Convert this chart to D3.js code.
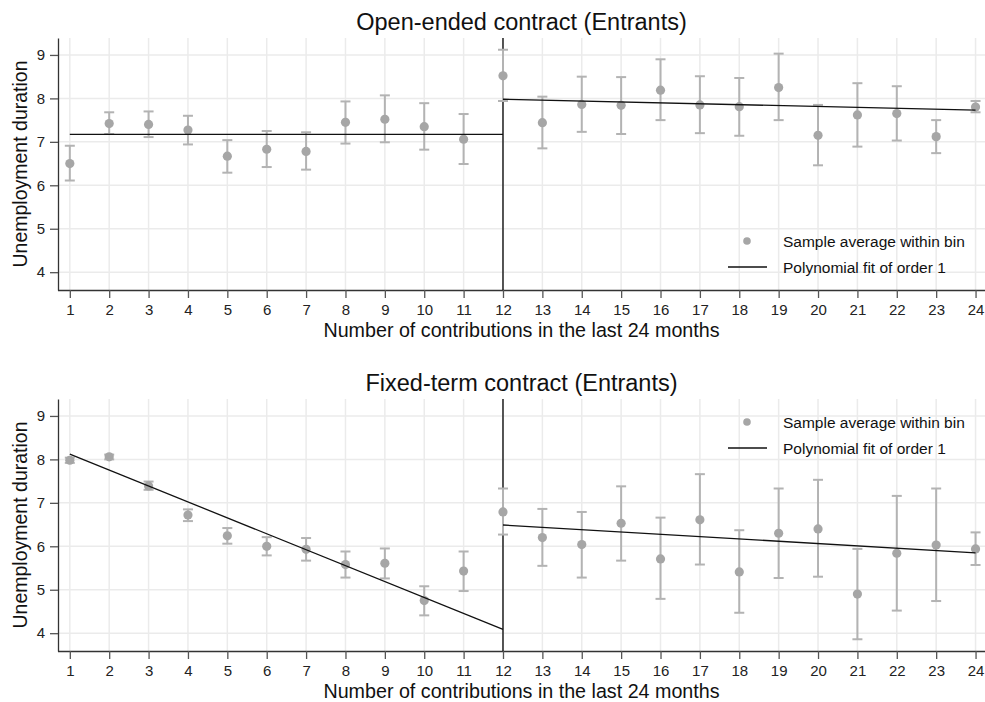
<!DOCTYPE html>
<html lang="en">
<head>
    <meta charset="UTF-8">
    <title>Unemployment duration by contributions</title>
    <script src="https://d3js.org/d3.v7.min.js"></script>
</head>
<style>
    body { margin: 0; background: #fff; }
    svg { display: block; font-family: "Liberation Sans", Arial, sans-serif; }
</style>
<body>
<script>
    // bins 1..24 (number of contributions in the last 24 months)
    const bins = d3.range(1, 25);
    const xTicks = d3.range(1, 25);
    const yTicks = [4, 5, 6, 7, 8, 9];
    const cutoff = 12;

    // Open-ended contract (Entrants)
    const openMean = [6.50, 7.42, 7.40, 7.27, 6.67, 6.83, 6.78, 7.45, 7.52, 7.35, 7.06,
                      8.52, 7.44, 7.86, 7.84, 8.19, 7.85, 7.81, 8.25, 7.15, 7.62, 7.65, 7.12, 7.80];
    const openHi   = [6.91, 7.68, 7.70, 7.60, 7.04, 7.25, 7.22, 7.93, 8.07, 7.89, 7.64,
                      9.12, 8.04, 8.50, 8.49, 8.90, 8.51, 8.47, 9.03, 7.85, 8.35, 8.28, 7.50, 7.94];
    const openLo   = [6.11, 7.18, 7.11, 6.94, 6.29, 6.42, 6.36, 6.96, 6.99, 6.82, 6.49,
                      7.94, 6.85, 7.23, 7.18, 7.50, 7.20, 7.14, 7.50, 6.46, 6.89, 7.03, 6.74, 7.68];
    const openFitLeft  = [7.17, 7.17];   // value at 1 and at 12
    const openFitRight = [7.98, 7.73];   // value at 12 and at 24

    // Fixed-term contract (Entrants)
    const fixedMean = [7.98, 8.06, 7.39, 6.72, 6.24, 6.00, 5.93, 5.58, 5.61, 4.75, 5.43,
                       6.79, 6.20, 6.04, 6.53, 5.71, 6.61, 5.41, 6.30, 6.40, 4.90, 5.84, 6.03, 5.94];
    const fixedHi   = [8.04, 8.11, 7.49, 6.85, 6.42, 6.21, 6.19, 5.88, 5.95, 5.08, 5.88,
                       7.33, 6.86, 6.79, 7.38, 6.66, 7.66, 6.37, 7.33, 7.53, 5.94, 7.16, 7.33, 6.32];
    const fixedLo   = [7.92, 8.00, 7.30, 6.58, 6.06, 5.79, 5.67, 5.28, 5.26, 4.41, 4.97,
                       6.27, 5.55, 5.28, 5.67, 4.79, 5.58, 4.47, 5.27, 5.30, 3.86, 4.52, 4.74, 5.57];
    const fixedFitLeft  = [8.12, 4.09];
    const fixedFitRight = [6.49, 5.85];

    const legendLabels = ["Sample average within bin", "Polynomial fit of order 1"];

    const W = 985, H = 702;
    const svg = d3.select("body").append("svg")
            .attr("width", W)
            .attr("height", H);

    const panels = [
        {title: "Open-ended contract (Entrants)", mean: openMean, hi: openHi, lo: openLo,
         fitL: openFitLeft, fitR: openFitRight, top: 0, legendY: 241},
        {title: "Fixed-term contract (Entrants)", mean: fixedMean, hi: fixedHi, lo: fixedLo,
         fitL: fixedFitLeft, fitR: fixedFitRight, top: 361, legendY: 422}
    ];

    const left = 58, right = 985;
    const x = d3.scaleLinear().domain([0.7, 24.24]).range([left, right]);

    panels.forEach(p => {
        const plotTop = p.top + 38, plotBottom = p.top + 290;
        const y = d3.scaleLinear().domain([3.59, 9.39]).range([plotBottom, plotTop]);
        const g = svg.append("g");

        // grid
        g.append("g").selectAll("line.vx").data(xTicks).join("line")
                .attr("x1", d => x(d)).attr("x2", d => x(d))
                .attr("y1", plotTop).attr("y2", plotBottom)
                .attr("stroke", "#ebebeb").attr("stroke-width", 1.5);
        g.append("g").selectAll("line.hy").data(yTicks).join("line")
                .attr("x1", left).attr("x2", right)
                .attr("y1", d => y(d)).attr("y2", d => y(d))
                .attr("stroke", "#ebebeb").attr("stroke-width", 1.5);

        // axes
        const xAxis = g.append("g")
                .attr("transform", `translate(0,${plotBottom})`)
                .call(d3.axisBottom(x).tickValues(xTicks).tickSize(8).tickPadding(6).tickSizeOuter(0));
        const yAxis = g.append("g")
                .attr("transform", `translate(${left},0)`)
                .call(d3.axisLeft(y).tickValues(yTicks).tickFormat(d3.format("d"))
                        .tickSize(8).tickPadding(5).tickSizeOuter(0));
        [xAxis, yAxis].forEach(a => {
            a.select(".domain").attr("stroke", "#333").attr("stroke-width", 1.3);
            a.selectAll(".tick line").attr("stroke", "#555").attr("stroke-width", 1.3);
            a.selectAll(".tick text").attr("font-size", 15).attr("fill", "#222")
                    .attr("font-family", "Liberation Sans, Arial, sans-serif");
        });
        // extend the x domain line across the whole plot
        xAxis.select(".domain").attr("d", `M${left},0.5H${right}`);

        // cutoff
        g.append("line")
                .attr("x1", x(cutoff)).attr("x2", x(cutoff))
                .attr("y1", plotTop).attr("y2", plotBottom)
                .attr("stroke", "#000").attr("stroke-width", 1.3);

        // error bars
        const eb = g.append("g").attr("stroke", "#b3b3b3").attr("stroke-width", 2);
        bins.forEach((b, i) => {
            eb.append("line").attr("x1", x(b)).attr("x2", x(b))
                    .attr("y1", y(p.lo[i])).attr("y2", y(p.hi[i]));
            [p.lo[i], p.hi[i]].forEach(v => {
                eb.append("line").attr("x1", x(b) - 5).attr("x2", x(b) + 5)
                        .attr("y1", y(v)).attr("y2", y(v));
            });
        });

        // points
        g.append("g").selectAll("circle").data(bins).join("circle")
                .attr("cx", d => x(d))
                .attr("cy", (d, i) => y(p.mean[i]))
                .attr("r", 4.6)
                .attr("fill", "#a6a6a6");

        // fit lines
        const line = d3.line().x(d => x(d[0])).y(d => y(d[1]));
        g.append("path").datum([[1, p.fitL[0]], [cutoff, p.fitL[1]]])
                .attr("d", line).attr("fill", "none").attr("stroke", "#111").attr("stroke-width", 1.3);
        g.append("path").datum([[cutoff, p.fitR[0]], [24, p.fitR[1]]])
                .attr("d", line).attr("fill", "none").attr("stroke", "#111").attr("stroke-width", 1.3);

        // titles
        g.append("text")
                .attr("x", (left + right) / 2).attr("y", p.top + 30)
                .attr("text-anchor", "middle").attr("font-size", 23.5).attr("fill", "#111")
                .text(p.title);
        g.append("text")
                .attr("x", (left + right) / 2).attr("y", p.top + 337)
                .attr("text-anchor", "middle").attr("font-size", 19.7).attr("fill", "#111")
                .text("Number of contributions in the last 24 months");
        g.append("text")
                .attr("transform", `translate(27,${(plotTop + plotBottom) / 2}) rotate(-90)`)
                .attr("text-anchor", "middle").attr("font-size", 19.5).attr("fill", "#111")
                .text("Unemployment duration");

        // legend
        const lg = g.append("g");
        lg.append("circle").attr("cx", 747).attr("cy", p.legendY).attr("r", 3.8).attr("fill", "#a6a6a6");
        lg.append("line").attr("x1", 728).attr("x2", 767)
                .attr("y1", p.legendY + 26).attr("y2", p.legendY + 26)
                .attr("stroke", "#111").attr("stroke-width", 1.3);
        lg.selectAll("text").data(legendLabels).join("text")
                .attr("x", 783).attr("y", (d, i) => p.legendY + i * 26 + 5.5)
                .attr("font-size", 15.5).attr("fill", "#111")
                .text(d => d);
    });
</script>
</body>
</html>
